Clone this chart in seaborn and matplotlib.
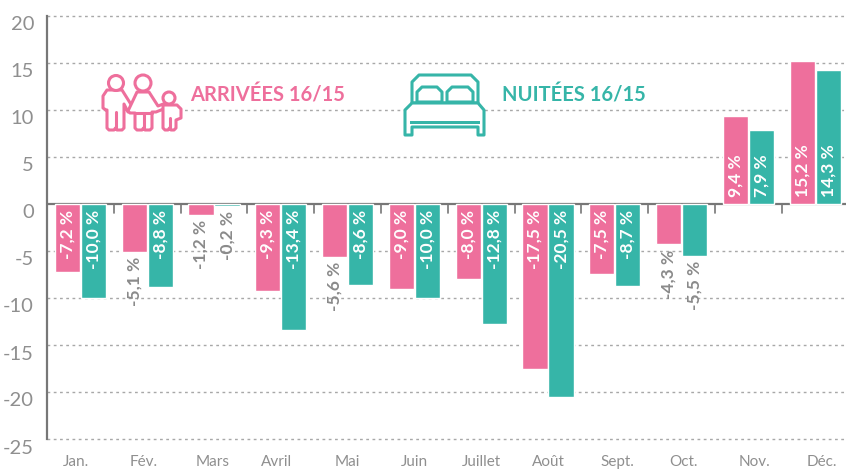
import pandas as pd
import seaborn as sns
import matplotlib.pyplot as plt
from matplotlib.patches import Circle, Polygon, Rectangle

months = ["Jan.", "Fév.", "Mars", "Avril", "Mai", "Juin", "Juillet", "Août", "Sept.", "Oct.", "Nov.", "Déc."]
arrivees = [-7.2, -5.1, -1.2, -9.3, -5.6, -9.0, -8.0, -17.5, -7.5, -4.3, 9.4, 15.2]
nuitees = [-10.0, -8.8, -0.2, -13.4, -8.6, -10.0, -12.8, -20.5, -8.7, -5.5, 7.9, 14.3]
y_ticks = [20, 15, 10, 5, 0, -5, -10, -15, -20, -25]
# month labels are not quite centred in the original
month_nudge = [-4, -4, -1, -4, 0, 0, 0, 0, 3, 2, 6, 7]

PINK = "#EE6F9C"
TEAL = "#36B5A8"
GREY = "#8A8A8A"
AXIS = "#777777"

W, H = 846, 470

df = pd.DataFrame({
    "mois": months * 2,
    "serie": ["Arrivées"] * 12 + ["Nuitées"] * 12,
    "val": arrivees + nuitees,
})

sns.set_theme(style="white")
plt.rcParams["font.family"] = ["Lato", "DejaVu Sans"]

fig = plt.figure(figsize=(W / 100, H / 100), dpi=100)
# axes runs slightly past the right edge, like the original
ax = fig.add_axes([47 / W, 1 - 439 / H, 801.6 / W, (439 - 16) / H])

sns.barplot(data=df, x="mois", y="val", hue="serie", order=months, palette=[PINK, TEAL],
            width=0.78, gap=0.03, saturation=1, legend=False, ax=ax, zorder=3)

ax.set_xlim(-0.5, 11.5)
ax.set_ylim(-25, 20)
ax.set_xlabel("")
ax.set_ylabel("")

# dotted grid behind the bars
for v in y_ticks:
    if v != 0:
        ax.axhline(v, color="#A8A8A8", lw=1, ls=(0, (2, 2.5)), zorder=1, clip_on=False)

for s in ["top", "right", "bottom"]:
    ax.spines[s].set_visible(False)
ax.spines["left"].set_color(AXIS)
ax.spines["left"].set_linewidth(1.6)
ax.axhline(0, color=AXIS, lw=1.6, zorder=2)

# little ticks between the months, hanging under the zero line
for i in range(11):
    ax.plot([i + 0.5, i + 0.5], [0, -1.0], color=AXIS, lw=1.2, zorder=2)

# tick labels sit a bit under their gridline
ax.set_xticks([])
ax.set_yticks([])
for v in y_ticks:
    ax.annotate(str(v), (0, v), xycoords=("axes fraction", "data"), xytext=(-13, -9),
                textcoords="offset pixels", ha="right", va="center", fontsize=14.5, color="#8F8F8F")
for i, m in enumerate(months):
    ax.annotate(m, (i, 0), xycoords=("data", "axes fraction"), xytext=(month_nudge[i], -23),
                textcoords="offset pixels", ha="center", va="center", fontsize=11, color="#8F8F8F")

# value labels: white in the bar if it fits, grey under it otherwise
for bars, vals in zip(ax.containers, [arrivees, nuitees]):
    for bar, v in zip(bars, vals):
        x = bar.get_x() + bar.get_width() / 2
        txt = f"{v:.1f} %".replace(".", ",")
        if v > 0:
            ax.annotate(txt, (x, 0), xytext=(0, 7), textcoords="offset pixels", rotation=90,
                        ha="center", va="bottom", color="white", fontsize=12.5, fontweight="bold", zorder=5)
        elif v <= -7:
            ax.annotate(txt, (x, 0), xytext=(0, -6), textcoords="offset pixels", rotation=90,
                        ha="center", va="top", color="white", fontsize=12.5, fontweight="bold", zorder=5)
        else:
            ax.annotate(txt, (x, v), xytext=(0, -5), textcoords="offset pixels", rotation=90,
                        ha="center", va="top", color=GREY, fontsize=12.5, fontweight="bold", zorder=5)

# overlay in pixel coordinates for the legend icons and titles
ov = fig.add_axes([0, 0, 1, 1], facecolor="none")
ov.set_xlim(0, W)
ov.set_ylim(H, 0)
ov.axis("off")


def shape(pts, color, closed=True, lw=2.2):
    ov.add_patch(Polygon(pts, closed=closed, fc="white" if closed else "none", ec=color, lw=lw, joinstyle="round"))


# family icon
shape([(106, 110), (103, 108), (103, 96), (107, 90), (122, 90), (132, 106), (128, 112), (124, 104),
       (124, 128), (122, 130), (117, 130), (115.5, 128), (114, 130), (109, 130), (107, 128), (107, 110)], PINK)
ov.plot([115.5, 115.5], [112, 128], color=PINK, lw=2.2)
shape([(137, 92), (149, 92), (158, 106), (166, 103), (166, 108), (156, 112), (152, 112), (152, 128), (150, 130),
       (145, 130), (143.5, 128), (142, 130), (137, 130), (135, 128), (135, 113), (130, 113), (128, 111)], PINK)
ov.plot([143.5, 143.5], [113, 128], color=PINK, lw=2.2)
ov.plot([135, 152], [113, 113], color=PINK, lw=2.2)
shape([(163, 105), (177, 105), (181, 109), (181, 118), (176, 120), (176, 128), (174, 130), (171, 130), (169.5, 128),
       (168, 130), (165, 130), (163, 128)], PINK)
ov.plot([169.5, 169.5], [118, 128], color=PINK, lw=2.2)
for cx, cy, r in [(116, 83, 7.5), (143, 83, 8), (169, 98, 6)]:
    ov.add_patch(Circle((cx, cy), r, fc="white", ec=PINK, lw=2.2))
ov.text(190, 96, "ARRIVÉES 16/15", color=PINK, fontsize=14.5, fontweight="bold", va="center", ha="left")

# bed icon
shape([(412, 103), (412, 82), (419, 75), (471, 75), (478, 82), (478, 103)], TEAL)
shape([(417, 102), (417, 92), (422, 87), (437, 87), (442, 92), (442, 102)], TEAL)
shape([(447, 102), (447, 92), (452, 87), (468, 87), (473, 92), (473, 102)], TEAL)
shape([(405, 135), (405, 110), (412, 103), (478, 103), (484, 110), (484, 135), (478, 135), (478, 127),
       (412, 127), (412, 135)], TEAL)
ov.add_patch(Rectangle((410, 121), 70, 3, fc=TEAL, ec="none"))
ov.text(502, 96, "NUITÉES 16/15", color=TEAL, fontsize=14.5, fontweight="bold", va="center", ha="left")

fig.savefig("out.png", dpi=100)
